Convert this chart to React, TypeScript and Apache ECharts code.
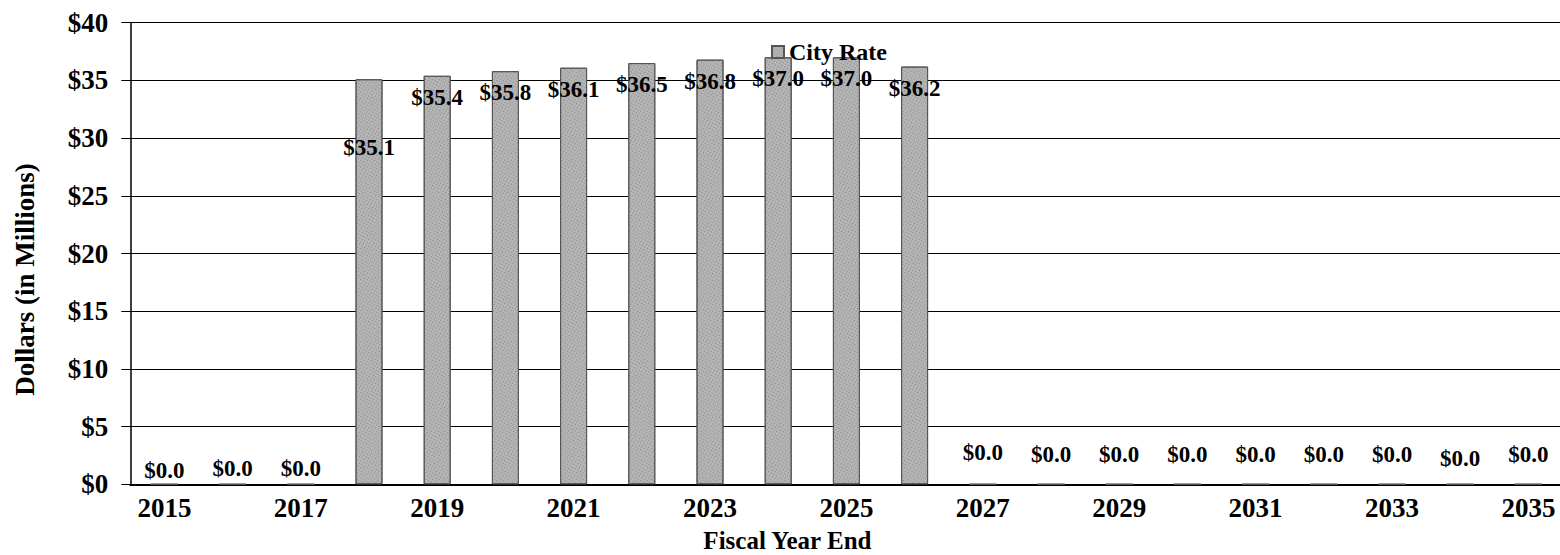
import React, { useEffect, useRef } from "react";
import * as echarts from "echarts";

const years: string[] = [
  "2015", "2016", "2017", "2018", "2019", "2020", "2021", "2022", "2023", "2024", "2025",
  "2026", "2027", "2028", "2029", "2030", "2031", "2032", "2033", "2034", "2035",
];
const cityRate: number[] = [
  0, 0, 0, 35.1, 35.4, 35.8, 36.1, 36.5, 36.8, 37.0, 37.0,
  36.2, 0, 0, 0, 0, 0, 0, 0, 0, 0,
];
const yTicks: number[] = [0, 5, 10, 15, 20, 25, 30, 35, 40];
const seriesName = "City Rate";

// label placement quirks (styling, kept apart from data)
const zeroLabelLift: Record<string, number> = {
  "2015": 2, "2016": 3.5, "2017": 3.5, "2027": 20, "2034": 14,
};
const insideLabelDrop: Record<string, number> = { "2018": 47 };

const FONT = "'Liberation Serif', 'Times New Roman', serif";

export default function App() {
  const ref = useRef<HTMLDivElement>(null);
  useEffect(() => {
    document.body.style.margin = "0";
    const chart = echarts.init(ref.current!, undefined, { renderer: "svg" });
    const data = cityRate.map((v, i) => {
      const y = years[i];
      if (v === 0) {
        return {
          value: v,
          label: { position: "top", distance: 0, offset: [0, -(zeroLabelLift[y] ?? 17.5)] },
        };
      }
      return {
        value: v,
        label: {
          position: "insideTop",
          distance: 10,
          offset: [0, insideLabelDrop[y] ?? 0],
        },
      };
    });
    chart.setOption({
      animation: false,
      backgroundColor: "#ffffff",
      textStyle: { fontFamily: FONT, fontWeight: "bold", color: "#000" },
      legend: {
        show: true,
        left: 771,
        top: 40,
        padding: 0,
        icon: "rect",
        itemWidth: 12,
        itemHeight: 12,
        data: [seriesName],
        textStyle: { fontFamily: FONT, fontWeight: "bold", fontSize: 24, color: "#000" },
      },
      grid: {
        left: 130.3, top: 22.7, right: -2.5, bottom: 70.7,
        containLabel: false, outerBoundsMode: "none",
      },
      xAxis: {
        type: "category",
        data: years,
        name: "Fiscal Year End",
        nameLocation: "middle",
        nameGap: 44,
        nameTextStyle: {
          fontFamily: FONT, fontWeight: "bold", fontSize: 25, color: "#000",
          padding: [0, 118, 0, 0],
        },
        axisLine: { show: true, lineStyle: { color: "#000", width: 2 } },
        axisTick: { show: false },
        axisLabel: {
          interval: 1,
          margin: 10,
          fontFamily: FONT, fontWeight: "bold", fontSize: 27, color: "#000",
        },
        splitLine: { show: false },
      },
      yAxis: {
        type: "value",
        min: yTicks[0],
        max: yTicks[yTicks.length - 1],
        interval: yTicks[1] - yTicks[0],
        name: "Dollars (in Millions)",
        nameLocation: "middle",
        nameGap: 92,
        nameTextStyle: {
          fontFamily: FONT, fontWeight: "bold", fontSize: 27, color: "#000",
          padding: [0, 52, 0, 0],
        },
        axisLine: { show: true, lineStyle: { color: "#000", width: 1.5 } },
        axisTick: { show: true, length: 9, lineStyle: { color: "#000", width: 1 } },
        axisLabel: {
          margin: 22,
          formatter: (v: number) => "$" + v,
          fontFamily: FONT, fontWeight: "bold", fontSize: 27, color: "#000",
        },
        splitLine: { show: true, lineStyle: { color: "#000", width: 1 } },
      },
      series: [
        {
          name: seriesName,
          type: "bar",
          data,
          barWidth: 27,
          itemStyle: {
            color: "#b4b4b4",
            borderColor: "#555",
            borderWidth: 1,
            decal: {
              symbol: "rect",
              symbolSize: 1,
              color: "rgba(60,60,60,0.4)",
              dashArrayX: [1, 2],
              dashArrayY: [1, 2],
              rotation: 0.5,
            },
          },
          label: {
            show: true,
            formatter: (p: any) => "$" + Number(p.value).toFixed(1),
            fontFamily: FONT,
            fontWeight: "bold",
            fontSize: 23,
            color: "#000",
          },
        },
      ],
    });
    return () => chart.dispose();
  }, []);
  return (
    <div
      ref={ref}
      style={{ position: "fixed", left: 0, top: 0, width: 1560, height: 555 }}
    />
  );
}
